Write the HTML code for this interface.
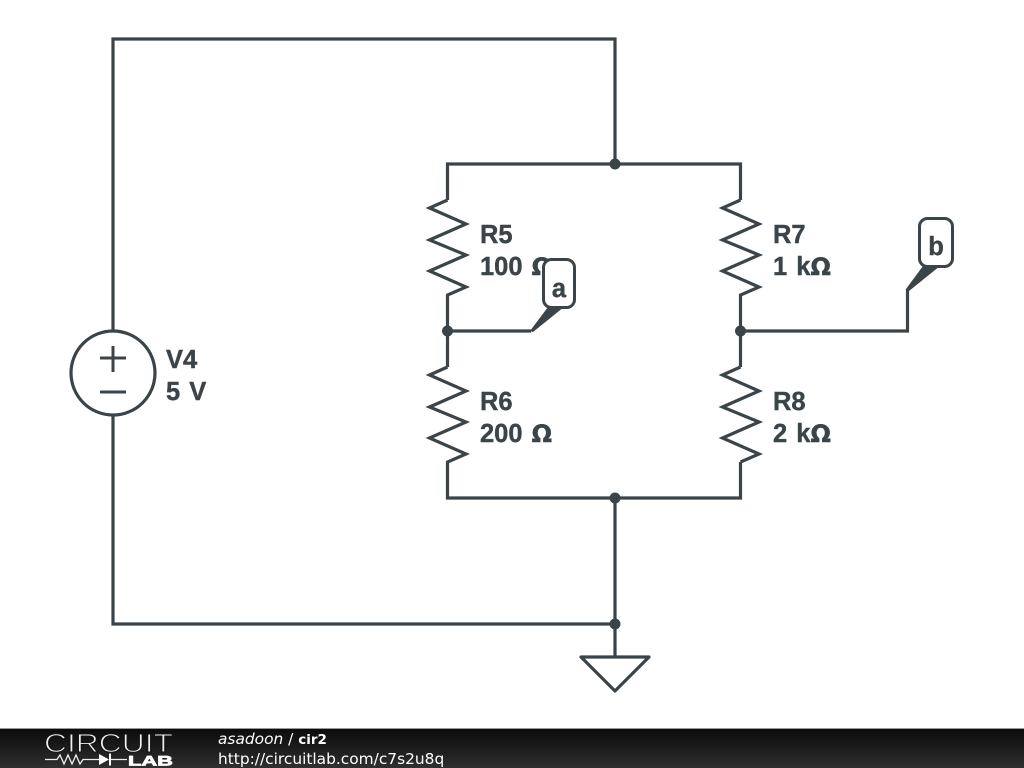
<!DOCTYPE html>
<html>
<head>
<meta charset="utf-8">
<style>
html,body{margin:0;padding:0;background:#fff;}
svg{display:block;}
.l{font-family:"Liberation Sans",Arial,sans-serif;font-weight:bold;font-size:25.5px;fill:#3b4449;stroke:#3b4449;stroke-width:0.4;word-spacing:2px;}
.o{font-family:"DejaVu Sans",sans-serif;font-size:24px;}
.f{font-family:"DejaVu Sans",sans-serif;font-size:15.4px;fill:#fff;}
</style>
</head>
<body>
<svg width="1024" height="768" viewBox="0 0 1024 768" xmlns="http://www.w3.org/2000/svg">
<defs>
<linearGradient id="g" x1="0" y1="0" x2="0" y2="1">
<stop offset="0" stop-color="#0c0c0c"/>
<stop offset="0.5" stop-color="#1c1c1c"/>
<stop offset="1" stop-color="#303030"/>
</linearGradient>
</defs>
<rect width="1024" height="768" fill="#fff"/>
<g fill="none" stroke="#3b4449" stroke-width="3.200" stroke-linejoin="miter" stroke-linecap="butt">
<path d="M113 331V39H615V164"/>
<path d="M113 415V624H615"/>
<path d="M447.5 200V164H740.5V200"/>
<path d="M447.5 200L429.500 208L466 224L429.500 240L466 255L429.500 271L466 287L447.5 295V367"/>
<path d="M447.5 367L429.500 375L466 391L429.500 407L466 422L429.500 438L466 454L447.5 462V498H740.5V462"/>
<path d="M740.5 200L722.500 208L759 224L722.500 240L759 255L722.500 271L759 287L740.5 295V367"/>
<path d="M740.5 367L722.500 375L759 391L722.500 407L759 422L722.500 438L759 454L740.5 462"/>
<path d="M615 498V657"/>
<path d="M447.5 331H531"/>
<path d="M740.5 331H907.500V289"/>
<circle cx="113" cy="373" r="42"/>
<path d="M100 358H126M113 346V372M100 392H126" stroke-width="3"/>
<path d="M581 657H649L615 691Z" stroke-linejoin="round"/>
</g>
<g fill="#3b4449">
<circle cx="615" cy="164" r="5.500"/>
<circle cx="447.500" cy="331" r="5.500"/>
<circle cx="740.500" cy="331" r="5.500"/>
<circle cx="615" cy="498" r="5.500"/>
<circle cx="615" cy="624" r="5.500"/>
</g>
<text class="l" x="480" y="243">R5</text>
<text class="l" x="480" y="275">100 <tspan class="o">Ω</tspan></text>
<text class="l" x="480" y="410">R6</text>
<text class="l" x="480" y="442">200 <tspan class="o">Ω</tspan></text>
<text class="l" x="773" y="243">R7</text>
<text class="l" x="773" y="275">1 k<tspan class="o">Ω</tspan></text>
<text class="l" x="773" y="410">R8</text>
<text class="l" x="773" y="442">2 k<tspan class="o">Ω</tspan></text>
<text class="l" x="166" y="368">V4</text>
<text class="l" x="166" y="400">5 V</text>
<path d="M530 331L548 307H564L533 332Z" fill="#3b4449"/>
<rect x="543.500" y="259.500" width="31" height="48" rx="8" fill="#fff" stroke="#3b4449" stroke-width="3"/>
<text class="l" x="559" y="297" text-anchor="middle">a</text>
<path d="M906 289L923 266H940L909 291Z" fill="#3b4449"/>
<rect x="919.500" y="218.500" width="33" height="48" rx="8" fill="#fff" stroke="#3b4449" stroke-width="3"/>
<text class="l" x="936" y="255" text-anchor="middle">b</text>
<rect x="0" y="728" width="1024" height="1.500" fill="#999"/>
<rect x="0" y="729" width="1024" height="39" fill="url(#g)"/>
<text x="44" y="752" font-family="'Liberation Sans',sans-serif" font-size="26" textLength="129" lengthAdjust="spacingAndGlyphs" fill="#f0f0f0" stroke="#141414" stroke-width="1" paint-order="fill stroke">CIRCUIT</text>
<path d="M45 759.500H57L60 755L64 764L68 755L72 764L76 755L80 764L83 759.500H99M111 759.500H127" fill="none" stroke="#eee" stroke-width="1.300"/>
<path d="M99 754L109 759.500L99 765Z" fill="#fff"/>
<rect x="109" y="753.500" width="2" height="12" fill="#fff"/>
<text x="128" y="765.500" font-family="'Liberation Sans',sans-serif" font-size="14" font-weight="bold" textLength="45" lengthAdjust="spacingAndGlyphs" fill="#fff" stroke="#fff" stroke-width="0.7">LAB</text>
<text class="f" x="218" y="744"><tspan font-style="italic">asadoon</tspan> / <tspan font-weight="bold" font-size="13.500">cir2</tspan></text>
<text class="f" x="218" y="764">http://circuitlab.com/c7s2u8q</text>
</svg>
</body>
</html>
